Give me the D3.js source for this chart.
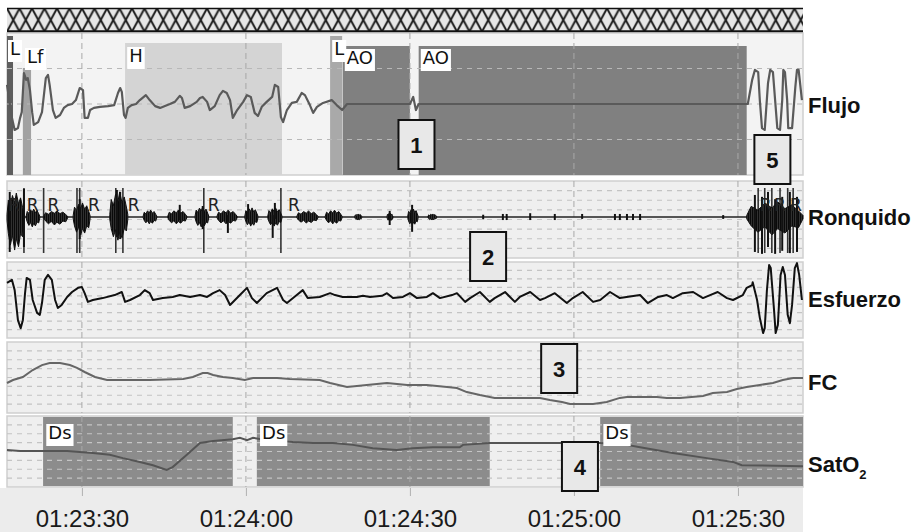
<!DOCTYPE html>
<html>
<head>
<meta charset="utf-8">
<script src="https://cdn.jsdelivr.net/npm/d3@7"></script>
<style>
  body { margin: 0; background: #fff; }
  svg { display: block; font-family: "Liberation Sans", Arial, sans-serif; }
</style>
</head>
<body>
<svg id="chart" width="918" height="532"></svg>
<script>
// all times are seconds after 01:23:00
const tickTimes = [30, 60, 90, 120, 150];
const tickLabels = ['01:23:30', '01:24:00', '01:24:30', '01:25:00', '01:25:30'];
const timeDomain = [16.3, 161.9];

// Flujo (normalised amplitude)
const flujo = [
  [16.3,0.54],[17.2,-0.39],[17.7,-0.73],[18.3,-0.68],[18.7,-0.39],[19.0,-0.23],[19.4,0.87],[19.8,0.68],
  [20.1,0.73],[20.5,0.39],[20.9,-0.23],[21.2,-0.59],[22.0,-0.51],[22.7,-0.23],[23.4,0.73],[23.8,0.82],
  [24.1,0.54],[24.7,-0.17],[25.2,-0.39],[26.0,-0.31],[26.7,-0.11],[27.4,-0.03],[28.2,0],[28.9,0.11],
  [29.6,0.45],[30.2,0.39],[30.5,-0.39],[31.1,-0.39],[31.5,-0.17],[32.2,-0.11],[33.3,-0.08],[34.8,-0.06],
  [35.9,-0.03],[36.6,0.31],[37.0,0.45],[37.3,0.34],[37.7,-0.31],[38.0,-0.39],[38.4,-0.11],[39.1,-0.03],
  [39.9,0],[40.6,0.11],[41.7,0.25],[42.4,0.11],[43.4,-0.06],[44.3,-0.11],[46.1,0],[47.0,0.06],
  [47.9,0.23],[48.3,0.17],[48.8,-0.11],[49.8,-0.06],[51.0,0.06],[51.6,0.17],[52.1,0.20],[52.9,0.06],
  [53.4,-0.17],[54.3,-0.06],[55.2,0.25],[55.8,0.37],[56.5,0.31],[57.1,0.11],[57.6,-0.39],[58.4,-0.17],
  [59.5,0.06],[60.2,0.25],[60.9,0.20],[61.6,-0.25],[62.2,-0.34],[62.9,-0.08],[63.8,0.06],[64.8,0.20],
  [65.3,0.54],[65.9,0.48],[66.4,-0.37],[66.8,-0.51],[67.5,-0.17],[68.4,0.03],[69.3,0.06],[70.2,0.31],
  [70.8,0.25],[71.7,-0.03],[72.3,-0.25],[73.0,-0.08],[74.1,0.03],[75.7,0.11],[76.6,-0.03],[77.6,-0.17],
  [78.5,0],[90.0,0],[90.6,0.20],[91.1,-0.17],[91.6,0],[151.8,0],[152.6,0.68],[153.1,0.96],
  [153.7,0.90],[154.0,0.11],[154.4,-0.68],[154.9,-0.73],[155.5,0.59],[155.9,0.96],[156.4,0.90],[156.8,0.11],
  [157.2,-0.68],[157.7,-0.73],[158.1,0.11],[158.3,0.96],[158.6,0.90],[159.0,0.11],[159.2,-0.68],[159.9,-0.68],
  [160.5,0.48],[160.8,0.96],[161.1,0.96],[161.7,0.11]
];
const flujoEvents = [
  { type: 'L',  t0: 16.3,  t1: 17.4 },
  { type: 'Lf', t0: 19.2,  t1: 20.7 },
  { type: 'H',  t0: 37.9,  t1: 66.6 },
  { type: 'L',  t0: 75.4,  t1: 77.6 },
  { type: 'AO', t0: 77.7,  t1: 90.0 },
  { type: 'AO', t0: 91.6,  t1: 151.6 }
];

// Ronquido: bursts [t0, t1, up, down], single spikes [t, up, down]
const snoreBursts = [
  [16.3,19.4,0.63,0.87],[19.8,22.3,0.21,0.26],[23.0,27.4,0.16,0.21],[28.4,31.5,0.37,0.47],
  [35.1,38.4,0.66,0.61],[41.2,43.7,0.18,0.18],[45.7,49.2,0.18,0.18],[50.7,53.2,0.26,0.26],
  [54.7,58.4,0.18,0.18],[59.8,62.2,0.24,0.24],[64.0,66.6,0.24,0.24],[69.3,73.2,0.16,0.16],
  [74.5,77.6,0.18,0.18],[79.9,81.2,0.08,0.08],[85.8,86.9,0.10,0.10],[89.6,91.5,0.21,0.21],
  [93.3,94.9,0.08,0.08],[151.6,161.9,0.40,0.47]
];
const snoreSpikes = [
  [16.8,0.66,0.92],[19.4,0.74,0.79],[29.6,0.47,0.58],[36.4,0.71,0.53],[37.0,0.66,0.58],
  [47.9,0.32,0.08],[52.1,0.29,0.32],[56.7,0.05,0.42],[60.4,0.34,0.05],[64.9,0.05,0.55],
  [65.3,0.37,0.05],[86.3,0.16,0.21],[90.4,0.32,0.39],[103.4,0.06,0.06],[107.0,0.08,0.08],
  [107.7,0.08,0.08],[112.0,0.10,0.08],[116.5,0.08,0.08],[121.5,0.08,0.05],[127.5,0.08,0.08],
  [128.4,0.08,0.08],[129.7,0.08,0.08],[130.8,0.08,0.08],[132.1,0.08,0.08],[147.3,0.05,0.05],
  [153.1,0.58,0.92],[154.4,0.53,0.97],[155.5,0.66,0.79],[156.8,0.47,0.97],[158.1,0.53,0.89],
  [159.5,0.66,0.95],[160.8,0.53,0.92]
];
const snoreMarks = [19.4, 23.0, 29.1, 29.6, 36.2, 37.5, 52.3, 66.4, 153.7, 154.9, 156.2, 157.7, 159.1, 160.1];
const snoreLabels = [16.5, 19.9, 23.7, 31.1, 38.4, 53.0, 67.7, 154.0, 156.6, 159.5];

// Esfuerzo (normalised amplitude)
const esfuerzo = [
  [16.3,0.45],[17.2,0.53],[17.7,0.26],[18.3,-0.53],[18.8,-0.74],[19.2,-0.53],[19.6,0.18],[19.9,0.58],
  [20.5,0.53],[21.0,0],[21.8,-0.34],[22.3,-0.39],[22.7,-0.08],[23.2,0.53],[23.8,0.66],[24.5,0.53],
  [25.1,0],[25.6,-0.21],[26.3,-0.13],[27.3,0.08],[28.2,0.21],[29.3,0.32],[30.0,0.34],[30.5,0.18],
  [31.1,-0.05],[32.0,0],[33.8,0.05],[36.0,0.13],[37.3,0.21],[37.9,-0.05],[38.8,0],[40.6,0.13],
  [41.5,0.26],[42.4,0.18],[43.0,0],[44.8,0.05],[46.6,0.08],[47.9,0.13],[49.8,0.08],[51.6,0.13],
  [52.9,0.08],[54.0,0.18],[55.2,0.26],[56.2,0.13],[57.1,-0.13],[58.9,0.13],[60.2,0.32],[61.1,0.05],
  [62.0,-0.08],[63.8,0.18],[65.7,0.32],[66.8,0],[67.5,-0.08],[69.3,0.13],[70.4,0.26],[71.3,0.05],
  [73.5,0.08],[75.4,0.18],[76.3,0.13],[77.7,0.08],[80.3,0.08],[81.4,0.11],[82.7,0.08],[84.9,0.11],
  [85.8,0.18],[86.9,0.05],[88.7,0.08],[90.0,0.18],[91.3,0.05],[93.1,0.08],[94.2,0.18],[95.5,0.05],
  [97.7,0.13],[98.6,0.18],[100.1,-0.05],[101.0,0.05],[102.8,0.21],[104.6,-0.05],[105.5,0.05],[107.4,0.21],
  [109.2,-0.05],[110.1,0.08],[112.0,0.21],[113.8,0],[114.7,0.05],[116.5,0.18],[118.7,-0.08],[119.8,0.05],
  [121.6,0.21],[123.5,-0.05],[124.8,0],[126.6,0.21],[128.4,0.05],[132.1,0.13],[133.5,-0.08],[135.4,0.08],
  [137.0,0.13],[138.1,0.05],[139.9,0.18],[141.8,0.21],[143.6,0.05],[144.9,0.13],[146.3,0.21],[148.0,0.05],
  [149.1,0],[150.9,0.13],[151.6,0.32],[152.6,0.39],[152.7,0.47],[153.5,0],[154.0,-0.47],[154.6,-0.87],
  [154.9,-0.74],[155.3,0.26],[155.7,0.92],[156.0,0.84],[156.6,-0.26],[156.9,-0.87],[157.3,-0.66],[157.8,0.66],
  [158.2,0.87],[158.6,0.66],[159.1,-0.39],[159.5,-0.61],[159.9,-0.13],[160.4,0.84],[160.8,0.97],[161.2,0.66],
  [161.7,0]
];

// FC (lpm)
const fc = [
  [16.3,66.9],[17.4,68.6],[19.2,70.3],[21.0,74.2],[22.7,77.0],[24.1,78.2],[26.0,78.2],[27.8,77.0],
  [29.1,75.4],[30.5,73.1],[32.4,70.3],[34.6,68.6],[36.4,68.6],[42.4,68.6],[48.5,69.2],[50.3,70.3],
  [52.1,72.5],[53.0,72.5],[54.0,71.4],[55.8,70.3],[57.6,69.7],[59.8,68.6],[61.3,69.7],[63.8,69.7],
  [65.7,69.7],[68.0,69.2],[73.5,68.6],[75.4,66.9],[78.5,64.6],[82.1,65.8],[85.8,66.9],[89.5,65.8],
  [93.1,65.8],[96.8,64.6],[98.6,64.1],[100.4,61.8],[102.8,60.1],[105.5,58.5],[107.7,58.5],[113.8,58.5],
  [115.6,57.3],[117.8,56.2],[119.3,55.1],[123.5,55.1],[126.0,56.2],[128.4,58.5],[129.7,59.0],[135.2,59.0],
  [137.0,58.5],[139.4,58.5],[143.6,59.6],[145.4,61.3],[148.0,61.8],[149.8,63.5],[151.6,64.6],[154.0,65.8],
  [156.4,66.9],[158.2,68.6],[160.1,69.7],[161.9,69.7]
];

// SatO2 (%)
const sat = [
  [16.3,92.8],[18.7,92.6],[22.9,92.6],[27.3,92.6],[29.6,92.4],[32.0,92.2],[35.1,91.8],[37.5,91.1],
  [40.6,90.3],[43.0,89.6],[45.5,88.6],[46.6,89.2],[49.2,91.8],[51.6,94.3],[54.0,94.7],[57.6,95.1],
  [58.9,95.4],[60.2,94.9],[61.3,95.4],[63.8,94.9],[68.6,94.5],[72.3,94.3],[75.9,94.3],[79.6,93.9],
  [83.2,93.2],[87.6,92.8],[90.5,93.2],[94.2,93.4],[99.1,93.4],[99.7,93.9],[104.6,94.3],[119.8,94.3],
  [124.8,94.3],[129.7,93.9],[132.1,93.4],[138.1,92.2],[144.3,91.1],[149.1,90.3],[150.7,89.6],[161.9,89.4]
];
const desats = [[22.9, 57.6], [62.0, 104.6], [124.8, 161.9]];

// numbered call-outs: [label, time]
const callouts = [['1', 91.2], ['5', 156.3], ['2', 104.3], ['3', 117.3], ['4', 121.1]];

// ---------------------------------------------------------------
const svg = d3.select('#chart');
const x = d3.scaleLinear().domain(timeDomain).range([7, 803]);

const panels = {
  flujo: { top: 33, bottom: 175 },
  ronq:  { top: 181, bottom: 258 },
  esf:   { top: 262, bottom: 338 },
  fc:    { top: 342, bottom: 413 },
  sat:   { top: 416, bottom: 487 }
};

const defs = svg.append('defs');
// top hatched band: row of X's with diamonds in between
const hw = 12.5, hh = 23;
const pat = defs.append('pattern').attr('id', 'hatch').attr('patternUnits', 'userSpaceOnUse')
  .attr('width', hw).attr('height', hh).attr('x', 7).attr('y', 8.5);
pat.append('rect').attr('width', hw).attr('height', hh).attr('fill', '#e6e6e6');
pat.append('path').attr('d', `M0,0L${hw},${hh}M${hw},0L0,${hh}`)
  .attr('stroke', '#1a1a1a').attr('stroke-width', 2).attr('fill', 'none');
// vertical stripes used to texture the snore bursts
const stripes = defs.append('pattern').attr('id', 'stripes').attr('patternUnits', 'userSpaceOnUse')
  .attr('width', 2).attr('height', 4);
stripes.append('rect').attr('width', 2).attr('height', 4).attr('fill', '#555');
stripes.append('rect').attr('width', 1.5).attr('height', 4).attr('fill', '#0a0a0a');

svg.append('rect').attr('x', 7).attr('y', 8.5).attr('width', 796).attr('height', hh).attr('fill', 'url(#hatch)');
svg.append('line').attr('x1', 7).attr('x2', 803).attr('y1', 8.5).attr('y2', 8.5).attr('stroke', '#111').attr('stroke-width', 1.5);
svg.append('line').attr('x1', 7).attr('x2', 803).attr('y1', 31.5).attr('y2', 31.5).attr('stroke', '#111').attr('stroke-width', 2.5);

// axis strip background
svg.append('rect').attr('x', 0).attr('y', 488).attr('width', 803).attr('height', 44).attr('fill', '#ececec');

// panel backgrounds
Object.entries(panels).forEach(([k, p]) => {
  svg.append('rect').attr('x', 7).attr('y', p.top).attr('width', 796).attr('height', p.bottom - p.top)
    .attr('fill', k === 'flujo' ? '#f3f3f3' : '#efefef').attr('stroke', '#cfcfcf').attr('stroke-width', 1.5);
});

// Flujo events
const evTop = { L: 36, Lf: 68, H: 43, AO: 46 };
const evFill = (d, i) => i === 0 ? '#5e5e5e' : ({ L: '#a9a9a9', Lf: '#a2a2a2', H: '#d4d4d4', AO: '#808080' })[d.type];
svg.append('g').selectAll('rect').data(flujoEvents).join('rect')
  .attr('x', d => x(d.t0)).attr('width', d => x(d.t1) - x(d.t0))
  .attr('y', d => evTop[d.type]).attr('height', d => panels.flujo.bottom - evTop[d.type])
  .attr('fill', evFill);
// Ds events
svg.append('g').selectAll('rect').data(desats).join('rect')
  .attr('x', d => x(d[0])).attr('width', d => x(d[1]) - x(d[0]))
  .attr('y', panels.sat.top + 1).attr('height', panels.sat.bottom - panels.sat.top - 2)
  .attr('fill', '#8c8c8c');

// horizontal dashed grid
function hGrid(p, n, color) {
  const step = (p.bottom - p.top) / n;
  const ys = d3.range(1, n).map(i => p.top + i * step);
  svg.append('g').selectAll('line').data(ys).join('line')
    .attr('x1', 7).attr('x2', 803).attr('y1', d => d).attr('y2', d => d)
    .attr('stroke', color).attr('stroke-width', 1.2).attr('stroke-dasharray', '5,5');
}
hGrid(panels.flujo, 4, '#b8b8b8');
hGrid(panels.ronq, 8, '#c4c4c4');
hGrid(panels.esf, 9, '#c4c4c4');
hGrid(panels.fc, 8, '#c4c4c4');
hGrid(panels.sat, 8, '#c4c4c4');

// vertical dashed time lines
Object.values(panels).forEach(p => {
  svg.append('g').selectAll('line').data(tickTimes).join('line')
    .attr('x1', d => x(d)).attr('x2', d => x(d)).attr('y1', p.top).attr('y2', p.bottom)
    .attr('stroke', '#a8a8a8').attr('stroke-width', 1).attr('stroke-dasharray', '6,4');
});

// event labels
function tagLabel(t, yTop, text, size) {
  const g = svg.append('g');
  const tx = g.append('text').attr('x', x(t) + 3).attr('y', yTop + size * 0.85)
    .attr('font-size', size).attr('font-family', '"DejaVu Sans", sans-serif').attr('fill', '#111').text(text);
  const b = tx.node().getBBox();
  g.insert('rect', 'text').attr('x', b.x - 2).attr('y', yTop).attr('width', b.width + 4).attr('height', size + 4)
    .attr('fill', '#fff');
}
const tagTop = { L: 40, Lf: 48, H: 47, AO: 49 };
flujoEvents.forEach((d, i) => tagLabel(i === 0 ? d.t0 : d.t0 + 0.2, tagTop[d.type], d.type, 18));

// Flujo line
const yFlujo = d3.scaleLinear().domain([-2, 2]).range([175, 33]);
svg.append('path').datum(flujo)
  .attr('d', d3.line().x(d => x(d[0])).y(d => yFlujo(d[1])))
  .attr('fill', 'none').attr('stroke', '#5a5a5a').attr('stroke-width', 2.2).attr('stroke-linejoin', 'round');

// Ronquido
const yRonq = d3.scaleLinear().domain([-1, 1]).range([255, 179]);
svg.append('line').attr('x1', 7).attr('x2', 803).attr('y1', yRonq(0)).attr('y2', yRonq(0))
  .attr('stroke', '#222').attr('stroke-width', 1.6);
svg.append('g').selectAll('line').data(snoreMarks).join('line')
  .attr('x1', d => x(d)).attr('x2', d => x(d)).attr('y1', 188).attr('y2', 253)
  .attr('stroke', '#333').attr('stroke-width', 1.6);
const burstArea = d3.area().x(d => x(d[0])).y0(d => yRonq(-d[2])).y1(d => yRonq(d[1]));
const envT = [0, 0.08, 0.2, 0.32, 0.45, 0.55, 0.68, 0.8, 0.92, 1];
const envUp = [0.1, 0.7, 0.45, 0.9, 0.6, 1, 0.55, 0.8, 0.4, 0.1];
const envDn = [0.1, 0.5, 0.85, 0.55, 1, 0.65, 0.9, 0.5, 0.6, 0.1];
svg.append('g').selectAll('path').data(snoreBursts).join('path')
  .attr('d', b => burstArea(envT.map((f, i) => [b[0] + f * (b[1] - b[0]), b[2] * envUp[i], b[3] * envDn[i]])))
  .attr('fill', 'url(#stripes)').attr('stroke', '#111').attr('stroke-width', 1);
svg.append('g').selectAll('line').data(snoreSpikes).join('line')
  .attr('x1', d => x(d[0])).attr('x2', d => x(d[0])).attr('y1', d => yRonq(d[1])).attr('y2', d => yRonq(-d[2]))
  .attr('stroke', '#111').attr('stroke-width', 2);
svg.append('g').selectAll('text').data(snoreLabels).join('text')
  .attr('x', d => x(d)).attr('y', 211).attr('font-size', 17).attr('font-family', '"DejaVu Sans", sans-serif')
  .attr('fill', '#222').text('R');

// Esfuerzo
const yEsf = d3.scaleLinear().domain([-1, 1]).range([338, 262]);
svg.append('path').datum(esfuerzo)
  .attr('d', d3.line().x(d => x(d[0])).y(d => yEsf(d[1])))
  .attr('fill', 'none').attr('stroke', '#111').attr('stroke-width', 2).attr('stroke-linejoin', 'round');

// FC
const yFc = d3.scaleLinear().domain([50, 90]).range([413, 342]);
svg.append('path').datum(fc)
  .attr('d', d3.line().x(d => x(d[0])).y(d => yFc(d[1])))
  .attr('fill', 'none').attr('stroke', '#666').attr('stroke-width', 2);

// SatO2
const ySat = d3.scaleLinear().domain([85, 100]).range([487, 416]);
svg.append('path').datum(sat)
  .attr('d', d3.line().x(d => x(d[0])).y(d => ySat(d[1])))
  .attr('fill', 'none').attr('stroke', '#555').attr('stroke-width', 2);
desats.forEach(d => tagLabel(d[0] + 0.4, 424, 'Ds', 18));

// time axis
const axis = svg.append('g').attr('transform', 'translate(0,488)')
  .call(d3.axisBottom(x).tickValues(tickTimes).tickFormat((d, i) => tickLabels[i]).tickSize(8).tickPadding(14));
axis.select('.domain').remove();
axis.selectAll('.tick line').attr('stroke', '#b0b0b0');
axis.selectAll('.tick text').attr('font-size', 24).attr('fill', '#1a1a1a')
  .attr('font-family', '"Liberation Sans", Arial, sans-serif');

// channel names
const names = [['Flujo', 113], ['Ronquido', 225], ['Esfuerzo', 307], ['FC', 390]];
svg.append('g').selectAll('text').data(names).join('text')
  .attr('x', 808).attr('y', d => d[1]).attr('font-size', 22).attr('font-weight', 'bold').attr('fill', '#111')
  .text(d => d[0]);
const satName = svg.append('text').attr('x', 808).attr('y', 472).attr('font-size', 22)
  .attr('font-weight', 'bold').attr('fill', '#111');
satName.append('tspan').text('SatO');
satName.append('tspan').attr('font-size', 13).attr('dy', 7).text('2');

// numbered call-outs
const calloutY = { '1': 120, '5': 135, '2': 232, '3': 344, '4': 442 };
const cg = svg.append('g').selectAll('g').data(callouts).join('g')
  .attr('transform', d => `translate(${x(d[1]) - 18},${calloutY[d[0]]})`);
cg.append('rect').attr('width', 36).attr('height', 49).attr('fill', '#e8e8e8')
  .attr('stroke', '#111').attr('stroke-width', 2);
cg.append('text').attr('x', 18).attr('y', 33).attr('text-anchor', 'middle').attr('font-size', 22)
  .attr('font-weight', 'bold').attr('fill', '#111').text(d => d[0]);
</script>
</body>
</html>
